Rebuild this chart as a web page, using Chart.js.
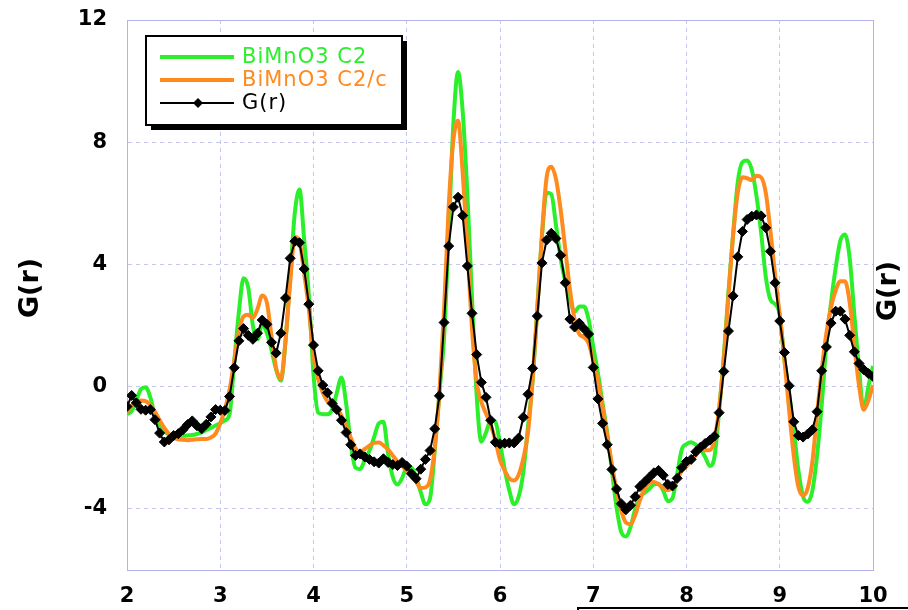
<!DOCTYPE html>
<html>
<head>
<meta charset="utf-8">
<script src="https://cdn.jsdelivr.net/npm/chart.js@4/dist/chart.umd.min.js"></script>
<style>
  html, body { margin: 0; padding: 0; background: #ffffff; }
  #wrap { width: 908px; height: 610px; position: relative; }
</style>
</head>
<body>
<div id="wrap"><canvas id="c" width="908" height="610"></canvas></div>
<script>
// r (Å) sampling points shared by all three curves
const rValues = [
  2.00, 2.05, 2.10, 2.15, 2.20, 2.25, 2.30, 2.35, 2.40, 2.45,
  2.50, 2.55, 2.60, 2.65, 2.70, 2.75, 2.80, 2.85, 2.90, 2.95,
  3.00, 3.05, 3.10, 3.15, 3.20, 3.25, 3.30, 3.35, 3.40, 3.45,
  3.50, 3.55, 3.60, 3.65, 3.70, 3.75, 3.80, 3.85, 3.90, 3.95,
  4.00, 4.05, 4.10, 4.15, 4.20, 4.25, 4.30, 4.35, 4.40, 4.45,
  4.50, 4.55, 4.60, 4.65, 4.70, 4.75, 4.80, 4.85, 4.90, 4.95,
  5.00, 5.05, 5.10, 5.15, 5.20, 5.25, 5.30, 5.35, 5.40, 5.45,
  5.50, 5.55, 5.60, 5.65, 5.70, 5.75, 5.80, 5.85, 5.90, 5.95,
  6.00, 6.05, 6.10, 6.15, 6.20, 6.25, 6.30, 6.35, 6.40, 6.45,
  6.50, 6.55, 6.60, 6.65, 6.70, 6.75, 6.80, 6.85, 6.90, 6.95,
  7.00, 7.05, 7.10, 7.15, 7.20, 7.25, 7.30, 7.35, 7.40, 7.45,
  7.50, 7.55, 7.60, 7.65, 7.70, 7.75, 7.80, 7.85, 7.90, 7.95,
  8.00, 8.05, 8.10, 8.15, 8.20, 8.25, 8.30, 8.35, 8.40, 8.45,
  8.50, 8.55, 8.60, 8.65, 8.70, 8.75, 8.80, 8.85, 8.90, 8.95,
  9.00, 9.05, 9.10, 9.15, 9.20, 9.25, 9.30, 9.35, 9.40, 9.45,
  9.50, 9.55, 9.60, 9.65, 9.70, 9.75, 9.80, 9.85, 9.90, 9.95,
  10.00
];

// Calculated G(r), BiMnO3 C2 model
const gC2 = [
  -0.90, -0.80, -0.45, -0.08, -0.02, -0.35, -0.95, -1.25, -1.45, -1.57,
  -1.60, -1.61, -1.61, -1.60, -1.58, -1.55, -1.50, -1.42, -1.35, -1.27,
  -1.20, -1.10, -0.90, 0.80, 2.45, 3.55, 3.25, 2.00, 1.55, 2.05,
  1.75, 1.20, 0.55, 0.20, 1.50, 3.60, 5.70, 6.45, 4.80, 3.00,
  0.40, -0.85, -0.90, -0.90, -0.75, -0.20, 0.30, -0.55, -1.90, -2.65,
  -2.70, -2.40, -2.10, -1.65, -1.20, -1.15, -2.20, -2.95, -3.20, -3.00,
  -2.65, -2.65, -2.95, -3.45, -3.85, -3.65, -2.10, -0.20, 1.60, 5.00,
  8.60, 10.30, 9.00, 6.30, 2.90, -0.30, -1.80, -1.50, -1.10, -1.15,
  -1.85, -2.70, -3.40, -3.85, -3.60, -2.80, -1.30, 0.20, 2.60, 4.90,
  6.35, 6.30, 5.30, 4.20, 3.45, 2.85, 2.45, 2.62, 2.62, 2.21,
  1.30, 0.45, -0.55, -1.50, -2.75, -3.95, -4.75, -4.90, -4.60, -4.00,
  -3.60, -3.48, -3.35, -3.20, -3.18, -3.40, -3.75, -3.65, -2.85, -2.05,
  -1.88, -1.82, -1.90, -2.05, -2.30, -2.60, -2.30, -0.80, 1.00, 3.10,
  5.00, 6.70, 7.35, 7.40, 7.10, 6.25, 5.05, 3.60, 2.85, 2.70,
  2.35, 0.90, -0.20, -1.40, -2.74, -3.60, -3.77, -3.40, -2.25, -0.60,
  1.40, 2.75, 3.90, 4.78, 4.98, 4.20, 2.35, 0.60, -0.75, 0.00,
  0.68
];

// Calculated G(r), BiMnO3 C2/c model
const gC2c = [
  -0.82, -0.62, -0.50, -0.45, -0.47, -0.60, -0.82, -1.10, -1.35, -1.55,
  -1.66, -1.72, -1.74, -1.75, -1.74, -1.72, -1.71, -1.71, -1.66, -1.54,
  -1.20, -0.75, -0.10, 0.85, 1.80, 2.30, 2.35, 2.25, 2.55, 2.98,
  2.75, 1.65, 0.60, 0.25, 1.50, 3.40, 4.90, 4.75, 3.70, 2.55,
  1.00, 0.25, -0.20, -0.48, -0.60, -0.72, -0.95, -1.30, -1.67, -2.02,
  -2.14, -2.04, -1.93, -1.84, -1.83, -1.92, -2.05, -2.25, -2.45, -2.60,
  -2.74, -2.90, -3.10, -3.32, -3.30, -3.05, -2.00, -0.20, 2.50, 5.90,
  8.07, 8.70, 7.00, 4.60, 1.90, 0.15, -0.50, -0.88, -1.25, -1.75,
  -2.40, -2.75, -3.00, -3.07, -2.88, -2.35, -1.50, 0.25, 2.50, 5.00,
  6.85, 7.20, 6.80, 5.80, 4.50, 3.18, 2.20, 1.72, 1.62, 1.42,
  0.85, 0.20, -0.67, -1.60, -2.55, -3.40, -4.05, -4.45, -4.50, -4.20,
  -3.72, -3.35, -3.15, -3.12, -3.20, -3.32, -3.39, -3.28, -3.05, -2.75,
  -2.60, -2.42, -2.25, -2.05, -2.08, -2.08, -1.75, -0.70, 0.90, 2.97,
  4.95, 6.35, 6.85, 6.82, 6.76, 6.90, 6.85, 6.35, 5.10, 3.65,
  2.35, 0.90, -0.75, -2.25, -3.28, -3.56, -3.32, -2.45, -0.90, 0.55,
  1.75, 2.60, 3.15, 3.45, 3.45, 2.75, 1.35, 0.05, -0.75, -0.45,
  0.05
];

// Measured G(r)
const gObs = [
  -0.65, -0.29, -0.53, -0.74, -0.77, -0.75, -1.08, -1.52, -1.81, -1.74,
  -1.60, -1.54, -1.41, -1.24, -1.12, -1.28, -1.38, -1.23, -0.99, -0.75,
  -0.77, -0.78, -0.32, 0.62, 1.50, 1.90, 1.68, 1.55, 1.75, 2.18,
  2.04, 1.45, 1.10, 1.75, 2.90, 4.20, 4.76, 4.71, 3.85, 2.70,
  1.36, 0.52, 0.05, -0.20, -0.55, -0.75, -1.10, -1.50, -1.90, -2.25,
  -2.20, -2.30, -2.38, -2.46, -2.50, -2.36, -2.48, -2.55, -2.58, -2.48,
  -2.60, -2.85, -3.01, -2.70, -2.38, -2.09, -1.38, -0.30, 2.10, 4.60,
  5.88, 6.20, 5.60, 3.95, 2.40, 1.05, 0.14, -0.35, -1.10, -1.82,
  -1.87, -1.85, -1.84, -1.84, -1.68, -1.00, -0.25, 0.60, 2.31, 4.05,
  4.80, 5.02, 4.85, 4.30, 3.40, 2.21, 1.95, 2.08, 1.90, 1.72,
  0.63, -0.40, -1.20, -1.90, -2.71, -3.35, -3.83, -4.03, -3.88, -3.60,
  -3.27, -3.12, -2.97, -2.82, -2.74, -2.90, -3.20, -3.25, -3.00, -2.65,
  -2.45, -2.38, -2.13, -1.98, -1.86, -1.75, -1.62, -0.85, 0.50, 1.82,
  2.97, 4.25, 5.08, 5.47, 5.58, 5.62, 5.59, 5.20, 4.43, 3.40,
  2.15, 1.12, 0.03, -1.15, -1.60, -1.65, -1.55, -1.41, -0.82, 0.52,
  1.30, 2.08, 2.47, 2.47, 2.21, 1.68, 1.14, 0.76, 0.56, 0.43,
  0.33
];

const seriesLabels = ['BiMnO3 C2', 'BiMnO3 C2/c', 'G(r)'];
const yTitle = 'G(r)';

const GREEN = '#2cef2c';
const ORANGE = '#ff8a1e';
const BLACK = '#000000';
const GRID = '#c6c6f3';
const AXIS = '#b2b2ee';

const toPoints = (ys) => rValues.map((r, i) => ({ x: r, y: ys[i] }));

const tickFont = { family: 'DejaVu Sans', weight: 'bold', size: 21 };

// Solid frame on the top and right edges of the plot area
const frame = {
  id: 'frame',
  beforeDatasetsDraw(chart) {
    const { ctx, chartArea: a } = chart;
    ctx.save();
    ctx.strokeStyle = AXIS;
    ctx.lineWidth = 1;
    ctx.beginPath();
    ctx.moveTo(Math.round(a.left) + 0.5, Math.round(a.top) + 0.5);
    ctx.lineTo(Math.round(a.right) + 0.5, Math.round(a.top) + 0.5);
    ctx.lineTo(Math.round(a.right) + 0.5, Math.round(a.bottom) + 0.5);
    ctx.stroke();
    ctx.restore();
  }
};

// Boxed legend with a drop shadow, plus the two rotated axis titles
const decorations = {
  id: 'decorations',
  afterDraw(chart) {
    const { ctx, chartArea: a } = chart;
    ctx.save();

    // legend box
    const bx = a.left + 19, by = a.top + 16, bw = 256, bh = 89;
    ctx.fillStyle = '#000';
    ctx.fillRect(bx + 5, by + 5, bw, bh);
    ctx.fillStyle = '#fff';
    ctx.fillRect(bx, by, bw, bh);
    ctx.strokeStyle = '#000';
    ctx.lineWidth = 2;
    ctx.strokeRect(bx, by, bw, bh);

    chart.data.datasets.forEach((ds, i) => {
      const cy = by + 21 + i * 23;
      ctx.strokeStyle = ds.borderColor;
      ctx.lineWidth = ds.borderWidth;
      ctx.beginPath();
      ctx.moveTo(bx + 14, cy);
      ctx.lineTo(bx + 88, cy);
      ctx.stroke();
      if (ds.pointRadius > 0) {
        const px = bx + 52, rr = ds.pointRadius;
        ctx.fillStyle = ds.pointBackgroundColor;
        ctx.beginPath();
        ctx.moveTo(px - rr, cy);
        ctx.lineTo(px, cy - rr);
        ctx.lineTo(px + rr, cy);
        ctx.lineTo(px, cy + rr);
        ctx.closePath();
        ctx.fill();
      }
      ctx.fillStyle = ds.borderColor;
      ctx.font = '21px "DejaVu Sans"';
      if ('letterSpacing' in ctx) ctx.letterSpacing = '1px';
      ctx.textAlign = 'left';
      ctx.textBaseline = 'middle';
      ctx.fillText(ds.label, bx + 96, cy + 1);
    });
    if ('letterSpacing' in ctx) ctx.letterSpacing = '0px';

    // rotated axis titles on both sides
    ctx.fillStyle = '#000';
    ctx.font = 'bold 27px "DejaVu Sans"';
    ctx.textAlign = 'center';
    ctx.textBaseline = 'middle';
    const midY = (a.top + a.bottom) / 2;
    [[a.left - 96, midY - 7], [a.right + 16, midY - 4]].forEach(([tx, ty]) => {
      ctx.save();
      ctx.translate(tx, ty);
      ctx.rotate(-Math.PI / 2);
      ctx.fillText(yTitle, 0, 0);
      ctx.restore();
    });

    // edge of the caption box below the axis
    ctx.strokeStyle = '#000';
    ctx.lineWidth = 2;
    ctx.strokeRect(a.left + 451, a.bottom + 38, 400, 40);

    ctx.restore();
  }
};

new Chart(document.getElementById('c'), {
  type: 'line',
  data: {
    datasets: [
      {
        label: seriesLabels[0],
        data: toPoints(gC2),
        borderColor: GREEN,
        borderWidth: 4,
        pointRadius: 0,
        cubicInterpolationMode: 'monotone',
        fill: false,
        order: 3
      },
      {
        label: seriesLabels[1],
        data: toPoints(gC2c),
        borderColor: ORANGE,
        borderWidth: 4,
        pointRadius: 0,
        cubicInterpolationMode: 'monotone',
        fill: false,
        order: 2
      },
      {
        label: seriesLabels[2],
        data: toPoints(gObs),
        borderColor: BLACK,
        borderWidth: 2,
        tension: 0,
        pointStyle: 'rectRot',
        pointRadius: 5,
        pointBackgroundColor: BLACK,
        pointBorderColor: BLACK,
        pointBorderWidth: 1,
        fill: false,
        order: 1
      }
    ]
  },
  options: {
    responsive: false,
    animation: false,
    devicePixelRatio: 1,
    layout: { padding: { top: 20, right: 35, left: 0, bottom: 0 } },
    plugins: {
      legend: { display: false },
      tooltip: { enabled: false },
      title: { display: false }
    },
    scales: {
      x: {
        type: 'linear',
        min: 2,
        max: 10,
        ticks: { stepSize: 1, padding: 14, color: '#000', font: tickFont, maxRotation: 0, autoSkip: false },
        grid: { color: GRID, lineWidth: 1, drawTicks: false },
        border: { color: AXIS, width: 1, dash: [4, 4] },
        afterFit(scale) {
          scale.height = 40;
          scale.paddingLeft = 0;
          scale.paddingRight = 0;
        }
      },
      y: {
        type: 'linear',
        min: -6,
        max: 12,
        ticks: { stepSize: 4, includeBounds: false, padding: 20, color: '#000', font: tickFont },
        grid: { color: GRID, lineWidth: 1, drawTicks: false },
        border: { color: AXIS, width: 1, dash: [4, 4] },
        afterFit(scale) {
          scale.width = 127;
          scale.paddingTop = 0;
          scale.paddingBottom = 0;
        }
      }
    }
  },
  plugins: [frame, decorations]
});
</script>
</body>
</html>
